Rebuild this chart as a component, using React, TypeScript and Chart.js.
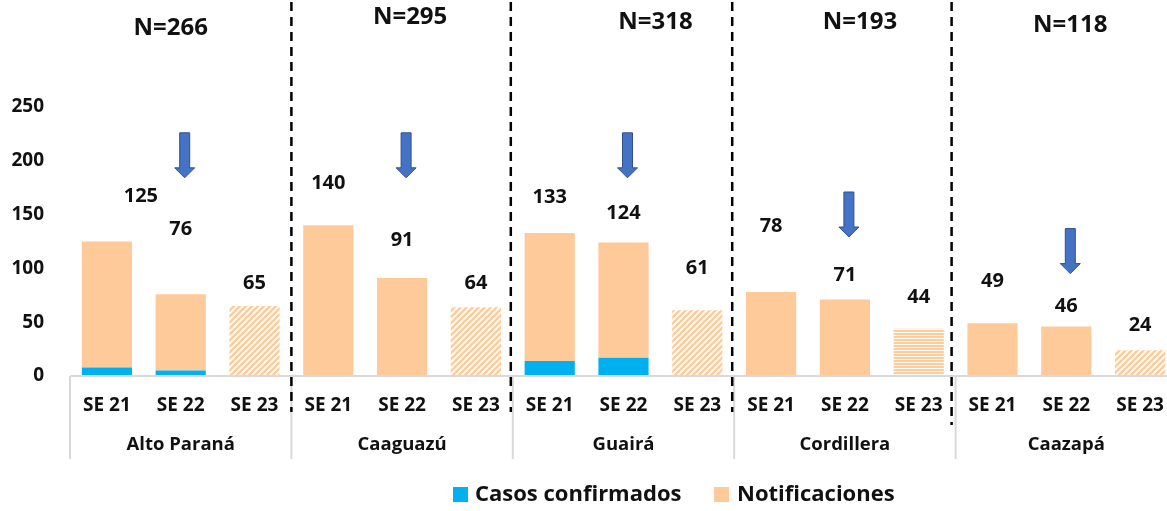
import React, { useEffect, useRef } from "react";
import { Chart, registerables } from "chart.js";

Chart.register(...registerables);

const departments = ["Alto Paraná", "Caaguazú", "Guairá", "Cordillera", "Caazapá"];
const weeks = ["SE 21", "SE 22", "SE 23"];
const groupTotals = [266, 295, 318, 193, 118];
// totals per week (labels shown) and confirmed cases
const totals = [125, 76, 65, 140, 91, 64, 133, 124, 61, 78, 71, 44, 49, 46, 24];
const confirmed = [8, 5, 0, 0, 0, 0, 14, 17, 0, 0, 0, 0, 0, 0, 0];
// value (in axis units) where each total label is written
const labelAt = [167, 136, 86, 179, 126, 86, 166, 151, 100, 139, 94, 73, 88, 65, 47];
// top of the arrow (axis units) over SE 22 in each department
const arrowTop = [226, 226, 226, 171, 137];
const yTicks = [0, 50, 100, 150, 200, 250];

const FONT = "'Open Sans', 'Noto Sans', sans-serif";

function makeDiagPattern(): CanvasPattern | string {
  const c = document.createElement("canvas");
  c.width = 6;
  c.height = 6;
  const g = c.getContext("2d");
  if (!g) return "#FFCC99";
  g.fillStyle = "#ffffff";
  g.fillRect(0, 0, 6, 6);
  g.strokeStyle = "#FFCC99";
  g.lineWidth = 2.4;
  g.beginPath();
  g.moveTo(-1, 7);
  g.lineTo(7, -1);
  g.moveTo(-4, 4);
  g.lineTo(4, -4);
  g.moveTo(2, 10);
  g.lineTo(10, 2);
  g.stroke();
  const p = g.createPattern(c, "repeat");
  return p || "#FFCC99";
}

function makeHorizPattern(): CanvasPattern | string {
  const c = document.createElement("canvas");
  c.width = 4;
  c.height = 3;
  const g = c.getContext("2d");
  if (!g) return "#FFCC99";
  g.fillStyle = "#ffffff";
  g.fillRect(0, 0, 4, 3);
  g.fillStyle = "#FFCC99";
  g.fillRect(0, 0, 4, 2);
  const p = g.createPattern(c, "repeat");
  return p || "#FFCC99";
}

export default function App() {
  const ref = useRef<HTMLCanvasElement | null>(null);

  useEffect(() => {
    document.body.style.margin = "0";
    const canvas = ref.current;
    if (!canvas) return;
    const diag = makeDiagPattern();
    const horiz = makeHorizPattern();
    const notifications = totals.map((t, i) => t - confirmed[i]);
    const notifColors = totals.map((_, i) => {
      if (i % 3 !== 2) return "#FFCA99";
      return departments[Math.floor(i / 3)] === "Cordillera" ? horiz : diag;
    });
    const labels = totals.map((_, i) => weeks[i % 3]);

    const decor = {
      id: "decor",
      afterDraw(chart: any) {
        const ctx = chart.ctx as CanvasRenderingContext2D;
        const xs = chart.scales.x;
        const ys = chart.scales.y;
        const area = chart.chartArea;
        const y0 = ys.getPixelForValue(0);
        const step = xs.getPixelForValue(1) - xs.getPixelForValue(0);
        const bounds: number[] = [];
        for (let g = 0; g <= departments.length; g++) {
          bounds.push(xs.getPixelForValue(g * 3) - step / 2);
        }
        ctx.save();
        // axis line and category separators
        ctx.strokeStyle = "#D9D9D9";
        ctx.lineWidth = 2;
        ctx.beginPath();
        ctx.moveTo(area.left, y0);
        ctx.lineTo(area.right, y0);
        bounds.forEach((b) => {
          ctx.moveTo(b, y0);
          ctx.lineTo(b, y0 + 83);
        });
        ctx.stroke();

        // dashed separators
        ctx.strokeStyle = "#000000";
        ctx.lineWidth = 2.5;
        ctx.setLineDash([9, 6]);
        for (let g = 1; g < departments.length; g++) {
          const x = bounds[g] - (g === 4 ? 4 : g === 2 || g === 3 ? 2 : 0);
          ctx.beginPath();
          ctx.moveTo(x, 2);
          ctx.lineTo(x, g === 4 ? 425 : 412);
          ctx.stroke();
        }
        ctx.setLineDash([]);

        // week labels and department labels
        ctx.fillStyle = "#111111";
        ctx.textAlign = "center";
        ctx.textBaseline = "middle";
        ctx.font = `bold 19px ${FONT}`;
        totals.forEach((_, i) => {
          ctx.fillText(labels[i], xs.getPixelForValue(i), y0 + 30);
        });
        ctx.font = `bold 18.5px ${FONT}`;
        departments.forEach((d, g) => {
          ctx.fillText(d, (bounds[g] + bounds[g + 1]) / 2, y0 + 69);
        });

        // value labels
        ctx.font = `bold 20px ${FONT}`;
        totals.forEach((t, i) => {
          const dx = i === 0 ? 34 : 0;
          ctx.fillText(String(t), xs.getPixelForValue(i) + dx, ys.getPixelForValue(labelAt[i]));
        });

        // N labels
        const nDx = [-10, 8, 32, 15, 4];
        const nY = [28, 17, 22, 22, 25];
        ctx.font = `bold 24px ${FONT}`;
        groupTotals.forEach((n, g) => {
          ctx.fillText(`N=${n}`, (bounds[g] + bounds[g + 1]) / 2 + nDx[g], nY[g]);
        });

        // arrows over SE 22
        arrowTop.forEach((v, g) => {
          const cx = xs.getPixelForValue(g * 3 + 1) + 4;
          const top = ys.getPixelForValue(v);
          const len = 45;
          const sw = 5;
          const hw = 10;
          const hl = 10;
          ctx.beginPath();
          ctx.moveTo(cx - sw, top);
          ctx.lineTo(cx + sw, top);
          ctx.lineTo(cx + sw, top + len - hl);
          ctx.lineTo(cx + hw, top + len - hl);
          ctx.lineTo(cx, top + len);
          ctx.lineTo(cx - hw, top + len - hl);
          ctx.lineTo(cx - sw, top + len - hl);
          ctx.closePath();
          ctx.fillStyle = "#4472C4";
          ctx.fill();
          ctx.strokeStyle = "#2F528F";
          ctx.lineWidth = 1;
          ctx.stroke();
        });

        // legend
        const ly = 495;
        ctx.textAlign = "left";
        ctx.font = `bold 22px ${FONT}`;
        ctx.fillStyle = "#00B0F0";
        ctx.fillRect(453, ly - 8, 15, 15);
        ctx.fillStyle = "#111111";
        ctx.fillText("Casos confirmados", 475, ly);
        ctx.fillStyle = "#FFCA99";
        ctx.fillRect(714, ly - 8, 15, 15);
        ctx.fillStyle = "#111111";
        ctx.fillText("Notificaciones", 737, ly);
        ctx.restore();
      },
    };

    const chart = new Chart(canvas, {
      type: "bar",
      data: {
        labels,
        datasets: [
          {
            label: "Casos confirmados",
            data: confirmed,
            backgroundColor: "#00B0F0",
            stack: "s",
            categoryPercentage: 1,
            barPercentage: 0.68,
            borderWidth: 0,
          },
          {
            label: "Notificaciones",
            data: notifications,
            backgroundColor: notifColors as any,
            stack: "s",
            categoryPercentage: 1,
            barPercentage: 0.68,
            borderWidth: 0,
          },
        ],
      },
      options: {
        responsive: false,
        animation: false,
        events: [],
        layout: { padding: { top: 107, bottom: 135, left: 0, right: 3 } },
        plugins: { legend: { display: false }, tooltip: { enabled: false } },
        scales: {
          x: { stacked: true, display: false, offset: true },
          y: {
            stacked: true,
            min: 0,
            max: 250,
            afterBuildTicks: (s: any) => {
              s.ticks = yTicks.map((v) => ({ value: v }));
            },
            afterFit: (s: any) => {
              s.width = 70;
            },
            grid: { display: false },
            border: { display: false },
            ticks: {
              padding: 18,
              color: "#111111",
              font: { family: FONT, size: 19, weight: "bold" },
            },
          },
        },
      },
      plugins: [decor],
    });
    return () => chart.destroy();
  }, []);

  return (
    <div style={{ width: 1167, height: 511, overflow: "hidden", background: "#fff" }}>
      <canvas ref={ref} width={1180} height={511} style={{ display: "block" }} />
    </div>
  );
}
